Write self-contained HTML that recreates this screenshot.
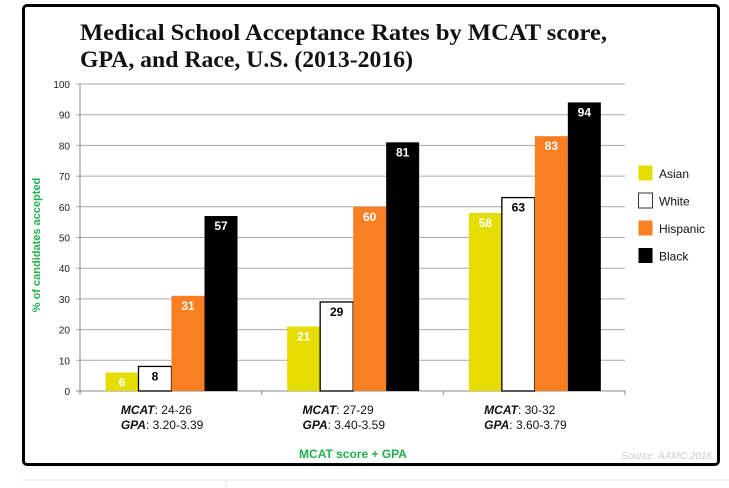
<!DOCTYPE html>
<html><head><meta charset="utf-8"><style>
body{margin:0;width:729px;height:488px;background:#fff;overflow:hidden;font-family:"Liberation Sans",Arial,sans-serif}
#frame{position:absolute;left:22px;top:4px;width:692px;height:456px;border:3px solid #000;border-radius:5px}
</style></head><body>
<div id="frame"></div>
<svg width="729" height="488" style="position:absolute;left:0;top:0">
<text x="80" y="40" font-family="Liberation Serif,serif" font-size="23" font-weight="bold" fill="#111" textLength="527" lengthAdjust="spacingAndGlyphs">Medical School Acceptance Rates by MCAT score,</text>
<text x="80" y="67" font-family="Liberation Serif,serif" font-size="23" font-weight="bold" fill="#111" textLength="333" lengthAdjust="spacingAndGlyphs">GPA, and Race, U.S. (2013-2016)</text>
<g id="grid"></g><g id="bars"></g>
<text transform="translate(40,245) rotate(-90)" text-anchor="middle" font-size="11" font-weight="bold" fill="#22b14c">% of candidates accepted</text>
<text x="353" y="458" text-anchor="middle" font-size="12" font-weight="bold" fill="#22b14c">MCAT score + GPA</text>
<text x="712" y="459" text-anchor="end" font-size="10" font-style="italic" fill="#ccc">Source: AAMC 2016</text>
<g id="legend"></g>
<line x1="22" y1="480" x2="729" y2="480" stroke="#e4e4e4"/>
<line x1="226" y1="480" x2="226" y2="488" stroke="#e4e4e4"/>
</svg>
<script>
const categoriesMCAT=["24-26","27-29","30-32"];
const categoriesGPA=["3.20-3.39","3.40-3.59","3.60-3.79"];
const seriesNames=["Asian","White","Hispanic","Black"];
const asian=[6,21,58];
const white=[8,29,63];
const hispanic=[31,60,83];
const black=[57,81,94];
const yTicks=[0,10,20,30,40,50,60,70,80,90,100];
const NS="http://www.w3.org/2000/svg";
const X0=80,X1=625,Y0=391,Y1=84;
const y=v=>Y0-(v/100)*(Y0-Y1);
const gw=(X1-X0)/categoriesMCAT.length;
const bw=33,off=25.5;
const colors=["#e5dc00","#fff","#f97f23","#000"];
const labCol=["#fff","#000","#fff","#fff"];
const series=[asian,white,hispanic,black];
function el(t,a,p){const e=document.createElementNS(NS,t);for(const k in a)e.setAttribute(k,a[k]);p.appendChild(e);return e;}
const grid=document.getElementById('grid');
yTicks.forEach(v=>{
 const l=el('line',{x1:76,x2:X1,y1:y(v),y2:y(v),stroke:v===0?'#888':'#aaa','stroke-width':1},grid);
 
 
 const t=el('text',{x:70,y:y(v)+4,'text-anchor':'end','font-size':10,fill:'#222'},grid);
 t.textContent=v;
 
 
});
const ax=el('line',{x1:X0,x2:X0,y1:Y1,y2:Y0+4,stroke:'#888'},grid);


for(let i=0;i<=categoriesMCAT.length;i++){
 const tk=el('line',{x1:X0+i*gw,x2:X0+i*gw,y1:Y0,y2:Y0+4,stroke:'#888'},grid);
 
 
}
const bars=document.getElementById('bars');
categoriesMCAT.forEach((c,i)=>{
 series.forEach((s,j)=>{
  const v=s[i],bx=X0+i*gw+off+j*bw;
  const r=el('rect',{x:bx,y:y(v),width:bw,height:Y0-y(v),fill:colors[j],stroke:j===1?'#000':'none','stroke-width':1.3},bars);
  
  
  const t=el('text',{x:bx+bw/2,y:y(v)+14,'text-anchor':'middle','font-size':12,'font-weight':'bold',fill:labCol[j]},bars);
  t.textContent=v;
  
  
 });
 const cx=X0+i*gw+gw/2-60;
 const t1=el('text',{x:cx+10,y:414,'font-size':12,fill:'#111'},bars);
 t1.innerHTML='<tspan font-weight="bold" font-style="italic">MCAT</tspan>: '+c;
 
 
 const t2=el('text',{x:cx+10,y:429,'font-size':12,fill:'#111'},bars);
 t2.innerHTML='<tspan font-weight="bold" font-style="italic">GPA</tspan>: '+categoriesGPA[i];
 
 
});
const lg=document.getElementById('legend');
seriesNames.forEach((n,j)=>{
 const r=el('rect',{x:638.5,y:165.5+j*27.5,width:14,height:15,fill:colors[j],stroke:j===1?'#333':'none'},lg);
 
 
 const t=el('text',{x:659,y:178+j*27.5,'font-size':12,fill:'#111'},lg);
 t.textContent=n;
 
 
});
</script>
</body></html>
